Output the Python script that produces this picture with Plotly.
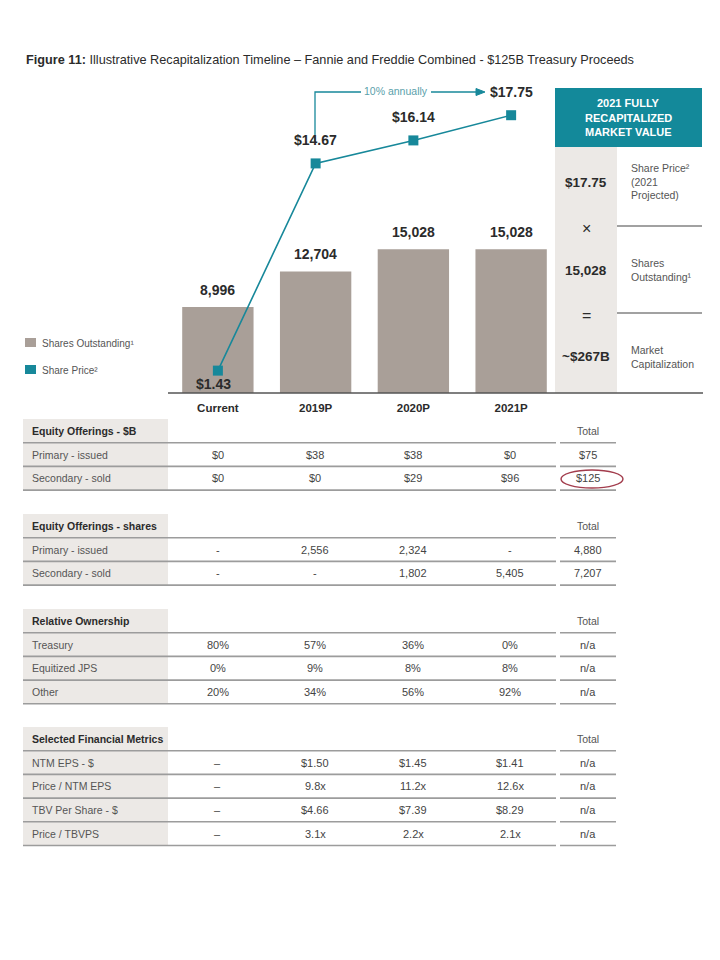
import plotly.graph_objects as go

# ---------------- data ----------------
categories = ["Current", "2019P", "2020P", "2021P"]
shares_outstanding = [8996, 12704, 15028, 15028]
share_price = [1.43, 14.67, 16.14, 17.75]
growth_label = "10% annually"

sec1_title = "Equity Offerings - $B"
sec1_rows = ["Primary - issued", "Secondary - sold"]
sec1_vals = [["$0", "$38", "$38", "$0"], ["$0", "$0", "$29", "$96"]]
sec1_total = ["$75", "$125"]

sec2_title = "Equity Offerings - shares"
sec2_rows = ["Primary - issued", "Secondary - sold"]
sec2_vals = [["-", "2,556", "2,324", "-"], ["-", "-", "1,802", "5,405"]]
sec2_total = ["4,880", "7,207"]

sec3_title = "Relative Ownership"
sec3_rows = ["Treasury", "Equitized JPS", "Other"]
sec3_vals = [["80%", "57%", "36%", "0%"], ["0%", "9%", "8%", "8%"], ["20%", "34%", "56%", "92%"]]
sec3_total = ["n/a", "n/a", "n/a"]

sec4_title = "Selected Financial Metrics"
sec4_rows = ["NTM EPS - $", "Price / NTM EPS", "TBV Per Share - $", "Price / TBVPS"]
sec4_vals = [["–", "$1.50", "$1.45", "$1.41"], ["–", "9.8x", "11.2x", "12.6x"],
             ["–", "$4.66", "$7.39", "$8.29"], ["–", "3.1x", "2.2x", "2.1x"]]
sec4_total = ["n/a", "n/a", "n/a", "n/a"]

# ---------------- style ----------------
W, H = 720, 960
F = "Liberation Sans, Arial, sans-serif"
BAR = "#a99f98"
TEAL = "#17889a"
TEAL_HDR = "#13899a"
GRAYCOL = "#ece9e6"
DARK = "#2b2b2b"
MID = "#555555"
RULE = "#9c9c9c"


def px(x):
    return x / W


def py(y):
    return 1 - y / H


ann = []
shapes = []


def text_at(x, y, text, size, color, xanchor="center", yanchor="middle", weight="normal"):
    ann.append(dict(x=px(x), y=py(y), xref="paper", yref="paper", text=text, showarrow=False,
                    xanchor=xanchor, yanchor=yanchor,
                    font=dict(family=F, size=size, color=color, weight=weight)))


def hline(x0, x1, y, color, width):
    shapes.append(dict(type="line", xref="paper", yref="paper", x0=px(x0), x1=px(x1), y0=py(y), y1=py(y),
                       line=dict(color=color, width=width)))


def rect(x0, y0, x1, y1, color, layer="below"):
    shapes.append(dict(type="rect", xref="paper", yref="paper", x0=px(x0), x1=px(x1), y0=py(y1), y1=py(y0),
                       fillcolor=color, line=dict(width=0), layer=layer))


fig = go.Figure()

fig.add_trace(go.Bar(x=categories, y=shares_outstanding, marker=dict(color=BAR, line=dict(width=0)),
                     width=0.73, name="Shares Outstanding", hoverinfo="skip"))
fig.add_trace(go.Scatter(x=categories, y=share_price, yaxis="y2", mode="lines+markers",
                         line=dict(color=TEAL, width=1.6),
                         marker=dict(symbol="square", size=10, color=TEAL),
                         name="Share Price", hoverinfo="skip"))

# bar labels
for c, v in zip(categories, shares_outstanding):
    ann.append(dict(x=c, y=v, xref="x", yref="y", text=f"{v:,}", showarrow=False,
                    xanchor="center", yanchor="bottom", yshift=7,
                    font=dict(family=F, size=14, color=DARK, weight="bold")))
# price labels
for i, (c, v) in enumerate(zip(categories, share_price)):
    below = i == 0
    ann.append(dict(x=c, y=v, xref="x", yref="y2", text=f"${v:.2f}", showarrow=False,
                    xanchor="center", yanchor="top" if below else "bottom",
                    yshift=-3 if below else 13, xshift=-4 if below else 0,
                    font=dict(family=F, size=14, color=DARK, weight="bold")))

# 10% annually bracket with arrow
shapes.append(dict(type="path", xref="paper", yref="paper",
                   path=f"M {px(315)} {py(141)} L {px(315)} {py(92)} L {px(361)} {py(92)}",
                   line=dict(color=TEAL, width=1.3)))
text_at(396, 91, growth_label, 10.5, "#5a9fab")
hline(431, 478, 92, TEAL, 1.3)
shapes.append(dict(type="path", xref="paper", yref="paper",
                   path=f"M {px(476)} {py(88.5)} L {px(485)} {py(92)} L {px(476)} {py(95.5)} Z",
                   fillcolor=TEAL, line=dict(color=TEAL, width=1)))

# baseline
hline(168, 703, 393, "#555", 1.5)

# legend (manual)
rect(25, 338, 36, 347, BAR, layer="above")
rect(25, 365, 36, 374, TEAL, layer="above")
text_at(40, 343, "Shares Outstanding¹", 10, MID, xanchor="left")
text_at(40, 370, "Share Price²", 10, MID, xanchor="left")

# right panel
rect(555, 88, 702, 147, TEAL_HDR, layer="above")
rect(555, 147, 617, 393, GRAYCOL)
hline(617, 702, 226, "#444", 1.2)
hline(617, 702, 313, "#444", 1.2)
for t, yy in [("2021 FULLY", 103), ("RECAPITALIZED", 117.5), ("MARKET VALUE", 132)]:
    text_at(628, yy, t, 11, "white", weight="bold")
mcap = share_price[-1] * shares_outstanding[-1] / 1000
panel_left = [(f"${share_price[-1]:.2f}", 182, 13.5, "bold"), ("×", 228, 16, "normal"),
              (f"{shares_outstanding[-1]:,}", 270, 13.5, "bold"), ("=", 315, 16, "normal"),
              (f"~${mcap:.0f}B", 357, 13.5, "bold")]
for t, yy, s, wgt in panel_left:
    text_at(586, yy, t, s, DARK, weight=wgt)
panel_right = [("Share Price²", 168), ("(2021", 181.5), ("Projected)", 195),
               ("Shares", 263.5), ("Outstanding¹", 277),
               ("Market", 350), ("Capitalization", 364)]
for t, yy in panel_right:
    text_at(629, yy, t, 10.5, MID, xanchor="left")

# title
text_at(24, 60, "<b>Figure 11:</b> Illustrative Recapitalization Timeline – Fannie and Freddie Combined - $125B Treasury Proceeds",
        12.7, DARK, xanchor="left")

# tables
col_x = [218, 315, 413, 510]
tot_x = 588
ROW = 23.7


def table(top, title, rows, vals, totals):
    n = len(rows)
    bottom = top + ROW * (n + 1)
    rect(23, top, 168, bottom, GRAYCOL)
    text_at(30, top + ROW / 2, title, 10.5, DARK, xanchor="left", weight="bold")
    text_at(tot_x, top + ROW / 2, "Total", 10.5, MID)
    for k in range(n + 1):
        yl = top + ROW * (k + 1)
        hline(23, 556, yl, RULE, 1.6)
        hline(560, 616, yl, RULE, 1.6)
    for r in range(n):
        yc = top + ROW * (r + 1) + ROW / 2
        text_at(30, yc, rows[r], 10.5, MID, xanchor="left")
        for j, v in enumerate(vals[r]):
            text_at(col_x[j], yc, v, 11, "#444")
        text_at(tot_x, yc, totals[r], 11, "#444")


table(419, sec1_title, sec1_rows, sec1_vals, sec1_total)
table(514, sec2_title, sec2_rows, sec2_vals, sec2_total)
table(609, sec3_title, sec3_rows, sec3_vals, sec3_total)
table(727, sec4_title, sec4_rows, sec4_vals, sec4_total)

# red ellipse around $125
shapes.append(dict(type="circle", xref="paper", yref="paper", x0=px(561), x1=px(623), y0=py(488), y1=py(470),
                   line=dict(color="#a23c4c", width=1.4)))

fig.update_layout(
    width=W, height=H, margin=dict(l=0, r=0, t=0, b=0),
    paper_bgcolor="white", plot_bgcolor="rgba(0,0,0,0)",
    showlegend=False, bargap=0.27,
    font=dict(family=F, color=DARK),
    xaxis=dict(domain=[px(169), px(560)], range=[-0.5, 3.5], showgrid=False, zeroline=False,
               showline=False, ticks="", tickfont=dict(family=F, size=11.5, color=DARK, weight="bold"),
               ticklabelstandoff=6, fixedrange=True),
    yaxis=dict(domain=[py(393), py(80)], range=[0, 313 * 104.5], visible=False, fixedrange=True),
    yaxis2=dict(domain=[py(393), py(80)], range=[0, 313 / 15.65], overlaying="y", visible=False,
                fixedrange=True),
    annotations=ann, shapes=shapes,
)

fig.write_html("out.html", config={"displayModeBar": False},
               post_script="document.body.style.margin='0';document.body.style.padding='0';")
